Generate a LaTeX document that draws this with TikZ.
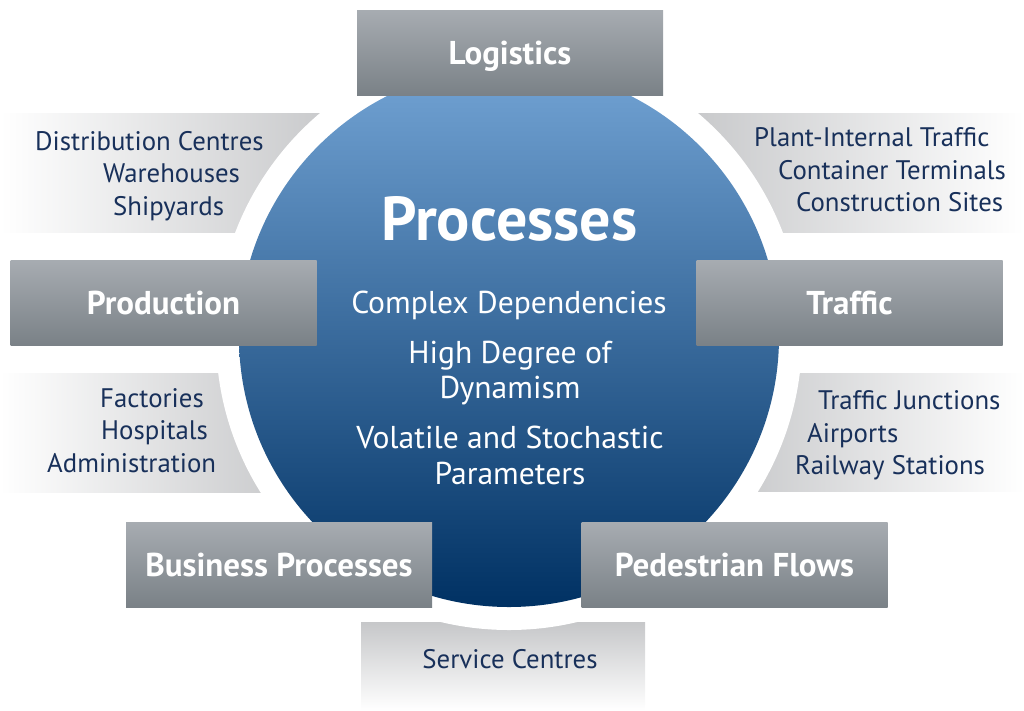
\documentclass[tikz,border=0pt]{standalone}
\usepackage{fontspec}
\setmainfont{PT Sans}
\definecolor{navy}{HTML}{18305A}
\definecolor{lgray}{HTML}{C6C7C9}
\definecolor{boxtop}{HTML}{A7ACB1}
\definecolor{boxbot}{HTML}{7A8187}
\definecolor{ctop}{HTML}{72A3D4}
\definecolor{cmid}{HTML}{215A97}
\definecolor{cbot}{HTML}{003163}
\tikzset{
  graybox/.style={rectangle, top color=boxtop, bottom color=boxbot, draw=none,
    minimum width=306pt, minimum height=85pt, inner sep=0pt,
    text=white, font=\fontsize{33}{36}\selectfont\bfseries,
    text height=23pt, text depth=0pt},
  listtxt/.style={text=navy, font=\fontsize{26.8}{30}\selectfont, inner sep=0pt, anchor=base west},
  midtxt/.style={text=white, font=\fontsize{31.6}{34}\selectfont, inner sep=0pt, anchor=base},
  titletxt/.style={text=white, font=\fontsize{62}{66}\selectfont\bfseries, inner sep=0pt, anchor=base}
}
\begin{document}
\begin{tikzpicture}[x=1pt,y=-1pt]
\useasboundingbox (0,0) rectangle (1024,710);
% light gray backgrounds
\shade[left color=white, right color=lgray] (0,113) rectangle (345,232);
\shade[left color=lgray, right color=white] (680,113) rectangle (1024,232);
\shade[left color=white, right color=lgray] (0,373) rectangle (300,492);
\shade[left color=lgray, right color=white] (720,373) rectangle (1024,491);
\shade[top color=lgray, bottom color=white] (361,622) rectangle (645,710);
% white gap
\fill[white] (509,337) circle[radius=293pt];
% central circle
\shade[top color=ctop, middle color=cmid, bottom color=cbot] (509,337) circle[radius=270pt];
% gray boxes
\node[graybox] (logistics) at (510,52.5) {Logistics};
\node[graybox] (production) at (163.5,302.5) {Production};
\node[graybox] (traffic) at (849.5,302.5) {Traffic};
\node[graybox] (business) at (279,564.5) {Business Processes};
\node[graybox] (pedestrian) at (734.5,564.5) {Pedestrian Flows};
% center texts
\node[titletxt] (proc) at (509.5,240) {Processes};
\node[midtxt] (c1) at (509,313) {Complex Dependencies};
\node[midtxt] (c2) at (510,363) {High Degree of};
\node[midtxt] (c3) at (510,398) {Dynamism};
\node[midtxt] (c4) at (510,448) {Volatile and Stochastic};
\node[midtxt] (c5) at (510,484) {Parameters};
% list texts
\node[listtxt] (tl1) at (35,150) {Distribution Centres};
\node[listtxt] (tl2) at (103,182) {Warehouses};
\node[listtxt] (tl3) at (113,215) {Shipyards};
\node[listtxt] (tr1) at (754,146) {Plant-Internal Traffic};
\node[listtxt] (tr2) at (778,179) {Container Terminals};
\node[listtxt] (tr3) at (796,211) {Construction Sites};
\node[listtxt] (ml1) at (100,407) {Factories};
\node[listtxt] (ml2) at (101,439) {Hospitals};
\node[listtxt] (ml3) at (47,472) {Administration};
\node[listtxt] (mr1) at (818,409) {Traffic Junctions};
\node[listtxt] (mr2) at (807,442) {Airports};
\node[listtxt] (mr3) at (795,474) {Railway Stations};
\node[listtxt, anchor=base] (bc) at (510,668) {Service Centres};
\end{tikzpicture}
\end{document}
